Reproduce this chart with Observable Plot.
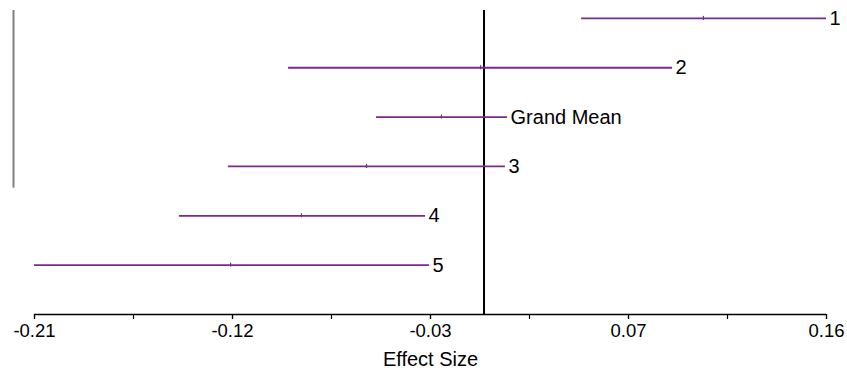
<!DOCTYPE html>
<html>
<head>
<meta charset="utf-8">
<script src="https://cdn.jsdelivr.net/npm/d3@7"></script>
<script src="https://cdn.jsdelivr.net/npm/@observablehq/plot@0.6"></script>
<style>
  html, body { margin: 0; padding: 0; background: #fff; }
  #chart svg { display: block; }
</style>
</head>
<body>
<div id="chart"></div>
<script>
// Forest plot data
const labels = ["1", "2", "Grand Mean", "3", "4", "5"];
const lower  = [0.0456, -0.0913, -0.0502, -0.1194, -0.1423, -0.2100];
const means  = [0.1025, -0.0016, -0.0199, -0.0549, -0.0853, -0.1184];
const upper  = [0.1600,  0.0881,  0.0110,  0.0100, -0.0273, -0.0255];

const xTickLabels = ["-0.21", "-0.12", "-0.03", "0.07", "0.16"];
const xMin = -0.21, xMax = 0.16;

const rows = labels.map((name, i) => ({name, idx: i, lo: lower[i], mid: means[i], hi: upper[i]}));

// 9 evenly spaced ticks (major every other one)
const nTicks = 9;
const tickPos = d3.range(nTicks).map(k => xMin + (xMax - xMin) * k / (nTicks - 1));
const majorPos = tickPos.filter((_, k) => k % 2 === 0);

const purple = "#7a2a8e";
const font = "'Liberation Sans', Arial, Helvetica, sans-serif";
const yTop = -0.16, yBottom = 6;

const chart = Plot.plot({
  width: 847,
  height: 374,
  marginLeft: 34,
  marginRight: 21,
  marginTop: 10,
  marginBottom: 60,
  style: {fontFamily: font, background: "#fff", overflow: "visible"},
  x: {domain: [xMin, xMax]},
  y: {domain: [yTop, yBottom], reverse: true, axis: null},
  marks: [
    // stray gray vertical line at the left
    Plot.ruleX([xMin], {dx: -21, y1: yTop, y2: 3.44, stroke: "#808080", strokeWidth: 2}),
    // axis baseline
    Plot.ruleY([yBottom], {x1: xMin, x2: xMax, stroke: "#000", strokeWidth: 1.5}),
    // all ticks
    Plot.axisX({ticks: tickPos, tickSize: 5, tickFormat: () => "", stroke: "#000", strokeWidth: 1.2}),
    Plot.axisX({ticks: majorPos, tickSize: 5, tickPadding: 4, fontSize: 18.5, fill: "#000",
      tickFormat: (d) => xTickLabels[majorPos.indexOf(d)], label: null, stroke: "#000", strokeWidth: 1.2}),
    Plot.text(["Effect Size"], {frameAnchor: "bottom", dy: 45, fontSize: 20, fill: "#000", lineAnchor: "middle"}),
    // zero line
    Plot.ruleX([0], {stroke: "#000", strokeWidth: 2}),
    // confidence intervals
    Plot.ruleY(rows, {y: "idx", x1: "lo", x2: "hi", stroke: purple, strokeWidth: 1.8}),
    // point estimates
    Plot.ruleX(rows, {x: "mid", y1: "idx", y2: "idx", insetTop: -2, insetBottom: -2, stroke: purple, strokeWidth: 1.2}),
    // labels
    Plot.text(rows, {x: "hi", y: "idx", text: "name", textAnchor: "start", dx: 3, fontSize: 20, fill: "#000"})
  ]
});

document.getElementById("chart").appendChild(chart);
</script>
</body>
</html>
